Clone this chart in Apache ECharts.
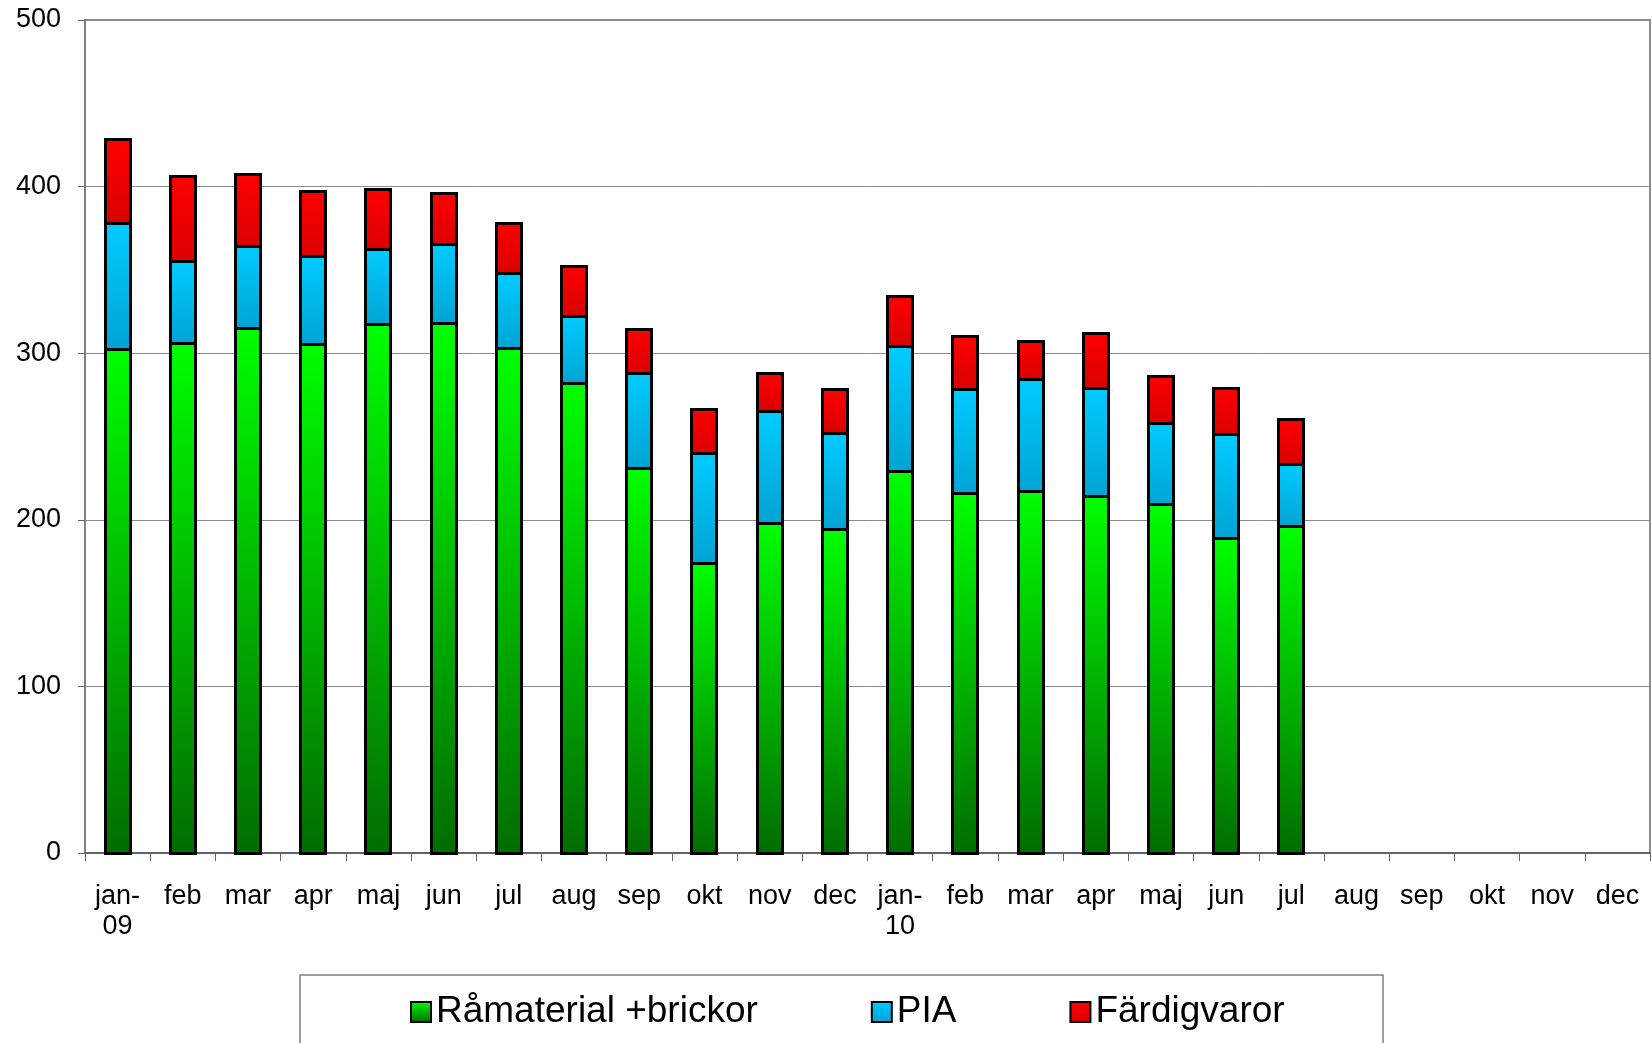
<!DOCTYPE html>
<html>
<head>
<meta charset="utf-8">
<script src="https://cdn.jsdelivr.net/npm/echarts@6/dist/echarts.min.js"></script>
<style>
html,body{margin:0;padding:0;background:#fff;}
#chart{width:1652px;height:1043px;}
</style>
</head>
<body>
<div id="chart"></div>
<script>
const categories = ['jan-\n09','feb','mar','apr','maj','jun','jul','aug','sep','okt','nov','dec',
                    'jan-\n10','feb','mar','apr','maj','jun','jul','aug','sep','okt','nov','dec'];
const ramaterial = [302,306,315,305,317,318,303,282,231,174,198,194,229,216,217,214,209,189,196];
const pia        = [76,49,49,53,45,47,45,40,57,66,67,58,75,62,67,65,49,62,37];
const fardigvaror= [50,51,43,39,36,31,30,30,26,26,23,26,30,32,23,33,28,28,27];
const yTicks = [0,100,200,300,400,500];

const FONT = "'Liberation Sans', Arial, sans-serif";
function grad(top, bottom){
  return new echarts.graphic.LinearGradient(0,0,0,1,[{offset:0,color:top},{offset:1,color:bottom}]);
}
const seriesDefs = [
  {name:'Råmaterial +brickor', data:ramaterial, top:'#00ff00', bottom:'#006c00'},
  {name:'PIA', data:pia, top:'#00ccff', bottom:'#00a3d2'},
  {name:'Färdigvaror', data:fardigvaror, top:'#ff0000', bottom:'#d80000'}
];

// stacked bottoms/tops built from the arrays
const base = ramaterial.map(() => 0);
const stackedData = seriesDefs.map(s => s.data.map((v, i) => {
  const lo = base[i]; const hi = lo + v; base[i] = hi; return [i, lo, hi];
}));

const BAR_OUTER = 28, LW = 3;
function makeRender(fill){
  return function(params, api){
    const i = api.value(0), lo = api.value(1), hi = api.value(2);
    const pLo = api.coord([i, lo]), pHi = api.coord([i, hi]);
    const L = Math.round(pLo[0] - BAR_OUTER/2);
    const yt = Math.floor(pHi[1]) + 0.5, yb = Math.floor(pLo[1]) + 0.5;
    return {
      type:'rect',
      shape:{x:L + LW/2, y:yt, width:BAR_OUTER - LW, height:yb - yt},
      style:{fill:fill, stroke:'#000', lineWidth:LW}
    };
  };
}

const chart = echarts.init(document.getElementById('chart'), null, {renderer:'canvas'});
chart.setOption({
  animation:false,
  backgroundColor:'#ffffff',
  grid:{left:85, right:2, top:20, bottom:190, show:true, borderColor:'#8c8c8c', borderWidth:2, backgroundColor:'transparent'},
  xAxis:{
    type:'category',
    data:categories,
    boundaryGap:true,
    axisLine:{show:true, lineStyle:{color:'#555555', width:1.5}},
    axisTick:{show:true, interval:0, alignWithLabel:false, length:8, lineStyle:{color:'#666666', width:1}},
    axisLabel:{interval:0, margin:29, fontSize:27, lineHeight:30, color:'#000', fontFamily:FONT},
    splitLine:{show:false}
  },
  yAxis:{
    type:'value',
    min:yTicks[0], max:yTicks[yTicks.length-1], interval:100,
    axisLine:{show:true, lineStyle:{color:'#808080', width:2}},
    axisTick:{show:true, length:7, lineStyle:{color:'#666666', width:1}},
    axisLabel:{margin:24, fontSize:27, color:'#000', fontFamily:FONT},
    splitLine:{show:true, lineStyle:{color:'#8c8c8c', width:1}}
  },
  legend:{
    left:410, top:992, padding:0,
    itemWidth:20, itemHeight:20, itemGap:113,
    icon:'rect',
    itemStyle:{borderColor:'#000', borderWidth:2},
    textStyle:{fontSize:37, lineHeight:40, color:'#000', fontFamily:FONT},
    data:seriesDefs.map(s=>s.name)
  },
  graphic:[{
    type:'rect', silent:true, z:-1,
    shape:{x:300, y:975, width:1083, height:120},
    style:{fill:'none', stroke:'#808080', lineWidth:1.5}
  }],
  series:seriesDefs.map((s, k)=>{
    const g = grad(s.top, s.bottom);
    return {
      name:s.name,
      type:'custom',
      renderItem:makeRender(g),
      encode:{x:0, y:[1,2]},
      data:stackedData[k],
      itemStyle:{color:g, borderColor:'#000', borderWidth:2},
      z:3
    };
  })
});
</script>
</body>
</html>
